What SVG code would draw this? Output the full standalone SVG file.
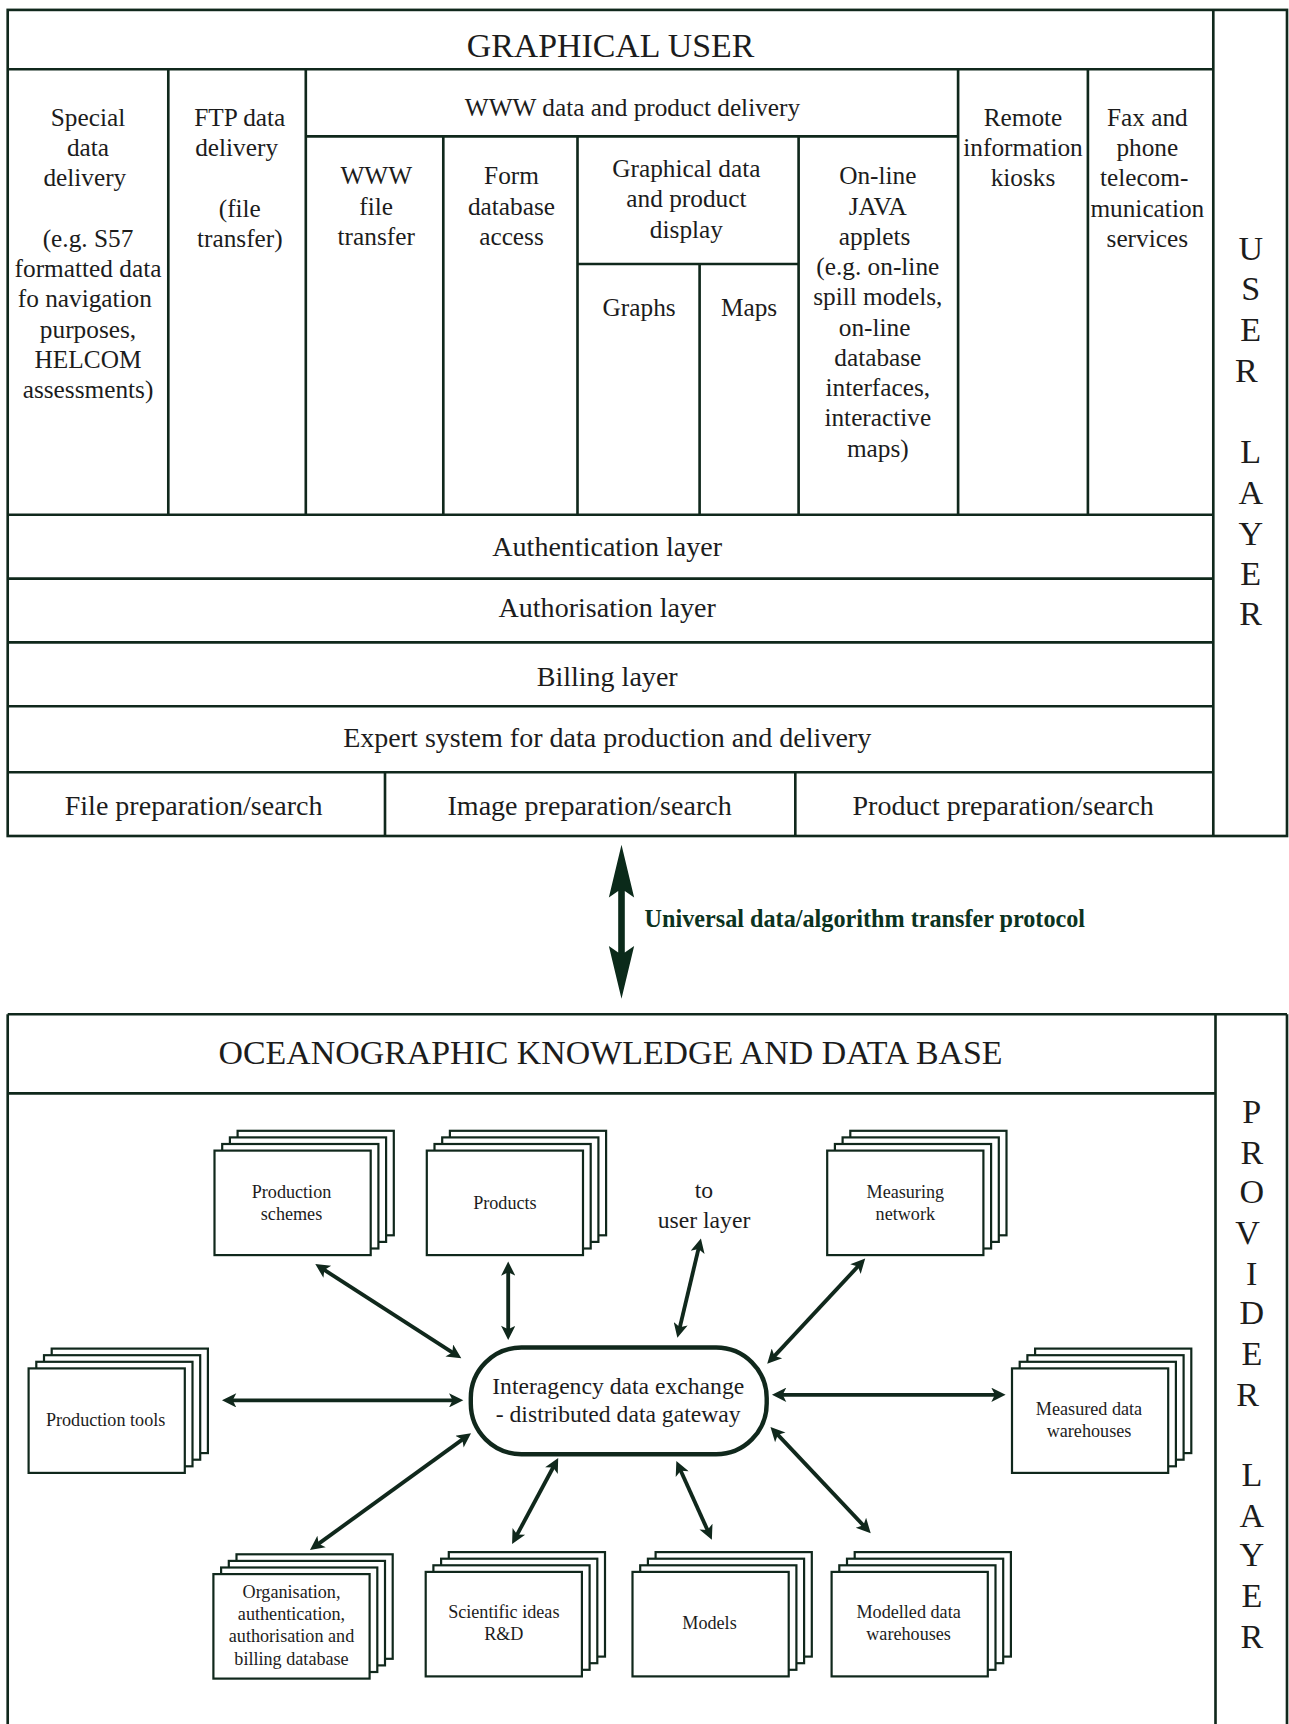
<svg xmlns="http://www.w3.org/2000/svg" xmlns:xlink="http://www.w3.org/1999/xlink" width="1289" height="1724" viewBox="0 0 1289 1724">
<style>
.ln{stroke:#10281c;stroke-width:2.4;fill:none}
.t{font-family:"Liberation Serif","Times New Roman",serif;fill:#1c1c1c;text-anchor:middle}
.c{font-size:23px}
.l{font-size:25.5px}
.h{font-size:30.8px}
.v{font-size:31px}
.s{font-size:16.5px}
.g{font-size:21.5px}
.bx{fill:#fff;stroke:#10281c;stroke-width:2}
.ar{stroke:#10281c;stroke-width:3.5;fill:none;marker-start:url(#ah);marker-end:url(#ah)}
</style>
<defs>
<marker id="ah" viewBox="0 0 10 10" refX="6" refY="5" markerUnits="userSpaceOnUse" markerWidth="20" markerHeight="13" orient="auto-start-reverse">
<path d="M0,0 L10,5 L0,10 L2.5,5 Z" fill="#10281c"/>
</marker>
<g id="stk">
<rect class="bx" x="21" y="-18" width="142" height="95"/>
<rect class="bx" x="14" y="-12" width="142" height="95"/>
<rect class="bx" x="7" y="-6" width="142" height="95"/>
<rect class="bx" x="0" y="0" width="142" height="95"/>
</g>
</defs>
<rect width="1289" height="1724" fill="#fff"/>
<g transform="scale(1.1)">
<g id="user-frame" class="ln">
<rect x="7" y="9" width="1163" height="751"/>
<line x1="1103" y1="9" x2="1103" y2="760"/>
<line x1="7" y1="63" x2="1103" y2="63"/>
<line x1="153" y1="63" x2="153" y2="468"/>
<line x1="278" y1="63" x2="278" y2="468"/>
<line x1="278" y1="124" x2="871" y2="124"/>
<line x1="403" y1="124" x2="403" y2="468"/>
<line x1="525" y1="124" x2="525" y2="468"/>
<line x1="525" y1="240" x2="726" y2="240"/>
<line x1="636" y1="240" x2="636" y2="468"/>
<line x1="726" y1="124" x2="726" y2="468"/>
<line x1="871" y1="63" x2="871" y2="468"/>
<line x1="989" y1="63" x2="989" y2="468"/>
<line x1="7" y1="468" x2="1103" y2="468"/>
<line x1="7" y1="526" x2="1103" y2="526"/>
<line x1="7" y1="584" x2="1103" y2="584"/>
<line x1="7" y1="642" x2="1103" y2="642"/>
<line x1="7" y1="702" x2="1103" y2="702"/>
<line x1="350" y1="702" x2="350" y2="760"/>
<line x1="723" y1="702" x2="723" y2="760"/>
</g>
<g id="graphical-user"><text class="t h" x="555" y="52">GRAPHICAL USER</text></g>
<g id="special-data-delivery"><text class="t c">
<tspan x="80" y="114.5">Special</tspan><tspan x="80" y="142">data</tspan><tspan x="80" y="169.5">delivery</tspan>
<tspan x="80" y="224.5">(e.g. S57</tspan><tspan x="80" y="252">formatted data</tspan><tspan x="80" y="279.5">fo navigation</tspan>
<tspan x="80" y="307">purposes,</tspan><tspan x="80" y="334.5">HELCOM</tspan><tspan x="80" y="362">assessments)</tspan></text></g>
<g id="ftp-data-delivery"><text class="t c">
<tspan x="218" y="114.5">FTP data</tspan><tspan x="218" y="142">delivery</tspan>
<tspan x="218" y="197">(file</tspan><tspan x="218" y="224.5">transfer)</tspan></text></g>
<g id="www-delivery"><text class="t c" x="575" y="105">WWW data and product delivery</text></g>
<g id="www-file-transfer"><text class="t c">
<tspan x="342" y="167.5">WWW</tspan><tspan x="342" y="195">file</tspan><tspan x="342" y="222.5">transfer</tspan></text></g>
<g id="form-database-access"><text class="t c">
<tspan x="465" y="167.5">Form</tspan><tspan x="465" y="195">database</tspan><tspan x="465" y="222.5">access</tspan></text></g>
<g id="graphical-display"><text class="t c">
<tspan x="624" y="161">Graphical data</tspan><tspan x="624" y="188.5">and product</tspan><tspan x="624" y="216">display</tspan></text></g>
<g id="graphs"><text class="t c" x="581" y="287.5">Graphs</text></g>
<g id="maps"><text class="t c" x="681" y="287.5">Maps</text></g>
<g id="java-applets"><text class="t c">
<tspan x="798" y="167.5">On-line</tspan><tspan x="798" y="195">JAVA</tspan><tspan x="798" y="222.5">applets</tspan>
<tspan x="798" y="250">(e.g. on-line</tspan><tspan x="798" y="277.5">spill models,</tspan><tspan x="798" y="305">on-line</tspan>
<tspan x="798" y="332.5">database</tspan><tspan x="798" y="360">interfaces,</tspan><tspan x="798" y="387.5">interactive</tspan><tspan x="798" y="415">maps)</tspan></text></g>
<g id="remote-kiosks"><text class="t c">
<tspan x="930" y="114.5">Remote</tspan><tspan x="930" y="142">information</tspan><tspan x="930" y="169.5">kiosks</tspan></text></g>
<g id="fax-phone"><text class="t c">
<tspan x="1043" y="114.5">Fax and</tspan><tspan x="1043" y="142">phone</tspan><tspan x="1043" y="169.5">telecom-</tspan>
<tspan x="1043" y="197">munication</tspan><tspan x="1043" y="224.5">services</tspan></text></g>
<g id="user-layer-label"><text class="t v">
<tspan x="1137" y="236">U</tspan><tspan x="1137" y="273">S</tspan><tspan x="1137" y="310">E</tspan><tspan x="1137" y="347">R</tspan>
<tspan x="1137" y="421">L</tspan><tspan x="1137" y="458">A</tspan><tspan x="1137" y="495">Y</tspan><tspan x="1137" y="532">E</tspan><tspan x="1137" y="568">R</tspan></text></g>
<g id="authentication-layer"><text class="t l" x="552" y="505.5">Authentication layer</text></g>
<g id="authorisation-layer"><text class="t l" x="552" y="560.5">Authorisation layer</text></g>
<g id="billing-layer"><text class="t l" x="552" y="623.5">Billing layer</text></g>
<g id="expert-system"><text class="t l" x="552" y="679.5">Expert system for data production and delivery</text></g>
<g id="file-prep"><text class="t l" x="176" y="740.5">File preparation/search</text></g>
<g id="image-prep"><text class="t l" x="536" y="740.5">Image preparation/search</text></g>
<g id="product-prep"><text class="t l" x="912" y="740.5">Product preparation/search</text></g>

<g id="protocol">
<path d="M565,768 L576.5,816 L568,810 L568,866 L576.5,860 L565,908 L553.5,860 L562,866 L562,810 L553.5,816 Z" fill="#0b2a1a"/>
<text x="586" y="843" style="font-family:'Liberation Serif','Times New Roman',serif;font-weight:bold;font-size:22px;fill:#0b3320">Universal data/algorithm transfer protocol</text>
</g>

<g id="provider-frame" class="ln">
<line x1="7" y1="922" x2="1170" y2="922"/>
<line x1="7" y1="922" x2="7" y2="1570"/>
<line x1="1105" y1="922" x2="1105" y2="1570"/>
<line x1="1170" y1="922" x2="1170" y2="1570"/>
<line x1="7" y1="994" x2="1105" y2="994"/>
</g>
<g id="ocean-title"><text class="t h" x="555" y="967">OCEANOGRAPHIC KNOWLEDGE AND DATA BASE</text></g>
<g id="provider-layer-label"><text class="t v">
<tspan x="1138" y="1021">P</tspan><tspan x="1138" y="1058">R</tspan><tspan x="1138" y="1094">O</tspan><tspan x="1138" y="1131">V</tspan>
<tspan x="1138" y="1168">I</tspan><tspan x="1138" y="1204">D</tspan><tspan x="1138" y="1241">E</tspan><tspan x="1138" y="1278">R</tspan>
<tspan x="1138" y="1351">L</tspan><tspan x="1138" y="1388">A</tspan><tspan x="1138" y="1424">Y</tspan><tspan x="1138" y="1461">E</tspan><tspan x="1138" y="1498">R</tspan></text></g>

<g id="connectors">
<line class="ar" x1="291" y1="1152" x2="415" y2="1232"/>
<line class="ar" x1="462" y1="1152" x2="462" y2="1213"/>
<line class="ar" x1="636" y1="1131" x2="617" y2="1211"/>
<line class="ar" x1="783" y1="1148" x2="701" y2="1236"/>
<line class="ar" x1="207" y1="1273" x2="416" y2="1273"/>
<line class="ar" x1="707" y1="1268" x2="909" y2="1268"/>
<line class="ar" x1="424" y1="1306" x2="286" y2="1406"/>
<line class="ar" x1="505" y1="1330" x2="468" y2="1399"/>
<line class="ar" x1="617" y1="1333" x2="645" y2="1395"/>
<line class="ar" x1="704" y1="1301" x2="788" y2="1390"/>
</g>

<g id="gateway">
<rect x="428" y="1225" width="269" height="97" rx="46" ry="46" fill="#fff" stroke="#10281c" stroke-width="4"/>
<text class="t g"><tspan x="562" y="1267">Interagency data exchange</tspan><tspan x="562" y="1293">- distributed data gateway</tspan></text>
</g>
<g id="to-user-layer"><text class="t g"><tspan x="640" y="1089">to</tspan><tspan x="640" y="1116">user layer</tspan></text></g>

<g id="production-schemes"><use xlink:href="#stk" x="195" y="1046"/>
<text class="t s"><tspan x="265" y="1089">Production</tspan><tspan x="265" y="1109">schemes</tspan></text></g>
<g id="products"><use xlink:href="#stk" x="388" y="1046"/>
<text class="t s" x="459" y="1099">Products</text></g>
<g id="measuring-network"><use xlink:href="#stk" x="752" y="1046"/>
<text class="t s"><tspan x="823" y="1089">Measuring</tspan><tspan x="823" y="1109">network</tspan></text></g>
<g id="production-tools"><use xlink:href="#stk" x="26" y="1244"/>
<text class="t s" x="96" y="1296">Production tools</text></g>
<g id="measured-warehouses"><use xlink:href="#stk" x="920" y="1244"/>
<text class="t s"><tspan x="990" y="1286">Measured data</tspan><tspan x="990" y="1306">warehouses</tspan></text></g>
<g id="organisation-db"><use xlink:href="#stk" x="194" y="1431"/>
<text class="t s"><tspan x="265" y="1453">Organisation,</tspan><tspan x="265" y="1473">authentication,</tspan><tspan x="265" y="1493">authorisation and</tspan><tspan x="265" y="1514">billing database</tspan></text></g>
<g id="scientific-ideas"><use xlink:href="#stk" x="387" y="1429"/>
<text class="t s"><tspan x="458" y="1471">Scientific ideas</tspan><tspan x="458" y="1491">R&amp;D</tspan></text></g>
<g id="models"><use xlink:href="#stk" x="575" y="1429"/>
<text class="t s" x="645" y="1481">Models</text></g>
<g id="modelled-warehouses"><use xlink:href="#stk" x="756" y="1429"/>
<text class="t s"><tspan x="826" y="1471">Modelled data</tspan><tspan x="826" y="1491">warehouses</tspan></text></g>
</g>
</svg>
